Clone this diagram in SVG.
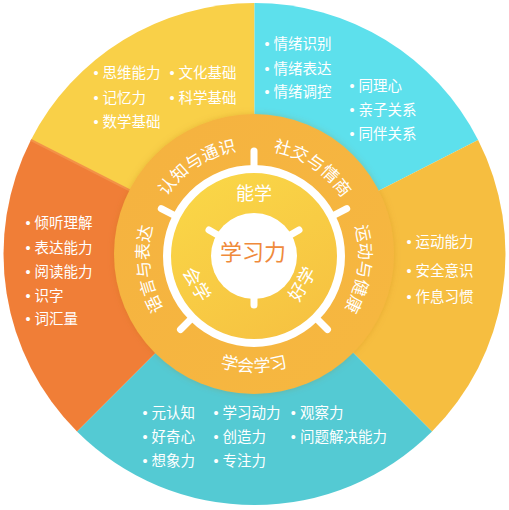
<svg xmlns="http://www.w3.org/2000/svg" width="509" height="510" viewBox="0 0 509 510">
<style>
.item{font-family:"Liberation Sans","Noto Sans CJK SC",sans-serif;font-size:14.5px;fill:#ffffff}
.ring{font-family:"Noto Sans CJK SC",sans-serif;font-size:17px;fill:#ffffff;letter-spacing:0.2px}
.inner{font-family:"Noto Sans CJK SC",sans-serif;font-size:18px;fill:#ffffff;text-anchor:middle}
.tick{stroke:#ffffff;stroke-width:7;stroke-linecap:round}
</style>
<defs>
<linearGradient id="diskGrad" x1="0.2" y1="0" x2="0.8" y2="1">
<stop offset="0" stop-color="#FAD747"/>
<stop offset="1" stop-color="#F6C141"/>
</linearGradient>
<linearGradient id="ringGrad" x1="0" y1="0" x2="1" y2="1">
<stop offset="0" stop-color="#F5B23F"/>
<stop offset="1" stop-color="#F6B83F"/>
</linearGradient>
<filter id="soft" x="-20%" y="-20%" width="140%" height="140%">
<feDropShadow dx="0" dy="0" stdDeviation="3" flood-color="#B06A10" flood-opacity="0.25"/>
</filter>
<path id="arcTop" d="M 254 360 A 105 105 0 1 1 254 150 A 105 105 0 1 1 254 360"/>
<path id="arcBottom" d="M 137 255 A 117 117 0 0 0 371 255"/>
</defs>

<g id="seg-cognition">
<path d="M 254.5 254 L 30.9 140 A 251 251 0 0 1 254.5 3 Z" fill="#F9D048"/>
<text class="item" x="93.5" y="78.2">• 思维能力</text>
<text class="item" x="169.5" y="78.2">• 文化基础</text>
<text class="item" x="93.5" y="102.8">• 记忆力</text>
<text class="item" x="169.5" y="102.8">• 科学基础</text>
<text class="item" x="93.5" y="127.2">• 数学基础</text>
</g>

<g id="seg-social">
<path d="M 254.5 254 L 254.5 3 A 251 251 0 0 1 478.1 140 Z" fill="#5DE0EC"/>
<text class="item" x="264.5" y="48.8">• 情绪识别</text>
<text class="item" x="264.5" y="73.8">• 情绪表达</text>
<text class="item" x="264.5" y="96.5">• 情绪调控</text>
<text class="item" x="349.5" y="90.5">• 同理心</text>
<text class="item" x="349.5" y="114.8">• 亲子关系</text>
<text class="item" x="349.5" y="138.8">• 同伴关系</text>
</g>

<g id="seg-motor">
<path d="M 254.5 254 L 478.1 140 A 251 251 0 0 1 432 431.5 Z" fill="#F6BE40"/>
<text class="item" x="406.5" y="247.2">• 运动能力</text>
<text class="item" x="406.5" y="275.5">• 安全意识</text>
<text class="item" x="406.5" y="302.2">• 作息习惯</text>
</g>

<g id="seg-learning">
<path d="M 254.5 254 L 432 431.5 A 251 251 0 0 1 77 431.5 Z" fill="#54CAD3"/>
<text class="item" x="142.5" y="418.2">• 元认知</text>
<text class="item" x="213.5" y="418.2">• 学习动力</text>
<text class="item" x="290.8" y="418.2">• 观察力</text>
<text class="item" x="142.5" y="442.2">• 好奇心</text>
<text class="item" x="213.5" y="442.2">• 创造力</text>
<text class="item" x="290.8" y="442.2">• 问题解决能力</text>
<text class="item" x="142.5" y="465.5">• 想象力</text>
<text class="item" x="213.5" y="465.5">• 专注力</text>
</g>

<g id="seg-language">
<path d="M 254.5 254 L 77 431.5 A 251 251 0 0 1 30.9 140 Z" fill="#F07E37"/>
<line x1="30.9" y1="140" x2="130" y2="190.5" stroke="#F39247" stroke-width="2"/>
<text class="item" x="25.5" y="228.2">• 倾听理解</text>
<text class="item" x="25.5" y="252.8">• 表达能力</text>
<text class="item" x="25.5" y="277.2">• 阅读能力</text>
<text class="item" x="25.5" y="300.5">• 识字</text>
<text class="item" x="25.5" y="323.8">• 词汇量</text>
</g>

<g id="ring">
<circle cx="254" cy="254" r="140" fill="url(#ringGrad)" filter="url(#soft)"/>
<text class="ring" text-anchor="middle"><textPath href="#arcTop" startOffset="40.9%">认知与通识</textPath></text>
<text class="ring" text-anchor="middle"><textPath href="#arcTop" startOffset="59.4%">社交与情商</textPath></text>
<text class="ring" text-anchor="middle"><textPath href="#arcTop" startOffset="77.1%">运动与健康</textPath></text>
<text class="ring" text-anchor="middle"><textPath href="#arcTop" startOffset="22.9%">语言与表达</textPath></text>
<text class="ring" text-anchor="middle"><textPath href="#arcBottom" startOffset="50%">学会学习</textPath></text>
</g>

<g id="ticks">
<line class="tick" x1="254" y1="168" x2="254" y2="151"/>
<line class="tick" x1="331.5" y1="216.5" x2="346.7" y2="208.7"/>
<line class="tick" x1="315.5" y1="317.5" x2="327.5" y2="329.5"/>
<line class="tick" x1="192.5" y1="317.5" x2="180.5" y2="329.5"/>
<line class="tick" x1="176.5" y1="216.5" x2="161.3" y2="208.7"/>
</g>

<g id="inner-ring">
<circle cx="254" cy="256" r="87" fill="url(#diskGrad)" stroke="#ffffff" stroke-width="8"/>
<text class="inner" x="254" y="199.5">能学</text>
<text class="inner" transform="translate(302,284) rotate(-60)" x="0" y="6.5">好学</text>
<text class="inner" transform="translate(197,284) rotate(60)" x="0" y="6.5">会学</text>
</g>

<g id="center">
<circle cx="254" cy="256" r="43" fill="#ffffff"/>
<line class="tick" x1="288.6" y1="236" x2="299" y2="230"/>
<line class="tick" x1="219.4" y1="236" x2="209" y2="230"/>
<line class="tick" x1="254" y1="296" x2="254" y2="305"/>
<text x="253" y="260" text-anchor="middle" font-family="Noto Sans CJK SC, sans-serif" font-size="22" fill="#EF8A3B">学习力</text>
</g>
</svg>
